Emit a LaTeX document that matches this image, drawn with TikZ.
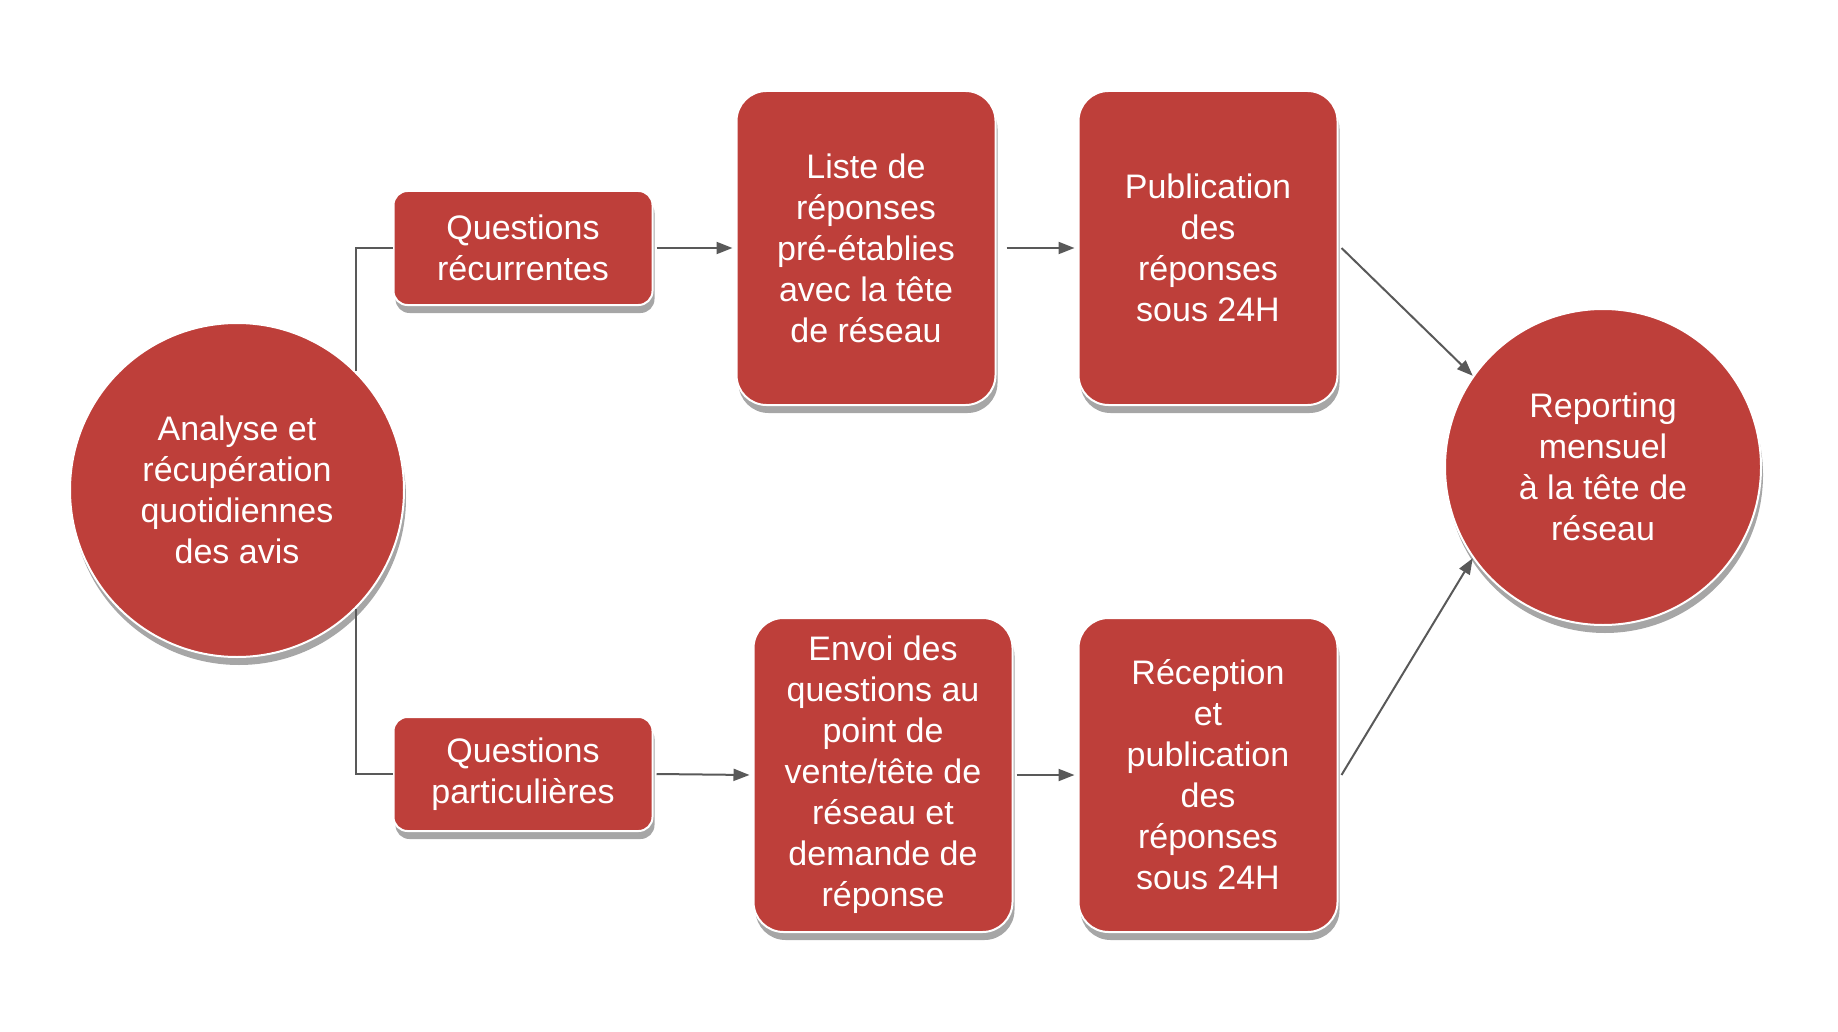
\documentclass[tikz,border=0pt]{standalone}
\usepackage{fontspec}
\setmainfont{Liberation Sans}
\usetikzlibrary{shadows,arrows.meta}
\definecolor{boxred}{HTML}{BE3F3A}
\definecolor{linegray}{HTML}{595959}
\tikzset{
  base/.style={fill=boxred,draw=white,line width=2pt,text=white,align=center,
    font=\fontsize{34}{41}\selectfont,
    drop shadow={shadow xshift=2pt,shadow yshift=-8pt,fill=black,opacity=0.35}},
  bigbox/.style={base,rectangle,rounded corners=30pt,minimum width=259pt,minimum height=314pt,inner sep=0pt},
  smallbox/.style={base,rectangle,rounded corners=14pt,minimum width=259pt,minimum height=114pt,inner sep=0pt},
  disc/.style={base,circle,inner sep=0pt},
  conn/.style={draw=linegray,line width=2pt,-{Triangle[length=16pt,width=12pt]}},
  plain/.style={draw=linegray,line width=2pt}
}
\begin{document}
\begin{tikzpicture}[x=1pt,y=-1pt]
\useasboundingbox (0,0) rectangle (1838,1032);
\node[disc,minimum size=334pt] (a) at (237,490) {Analyse et\\récupération\\quotidiennes\\des avis};
\node[smallbox] (q1) at (523,248) {Questions\\récurrentes};
\node[smallbox] (q2) at (523,774) {Questions\\particulières};
\node[bigbox] (l) at (866,248) {Liste de\\réponses\\pré-établies\\avec la tête\\de réseau};
\node[bigbox] (p) at (1208,248) {Publication\\des\\réponses\\sous 24H};
\node[bigbox] (e) at (883,775) {Envoi des\\questions au\\point de\\vente/tête de\\réseau et\\demande de\\réponse};
\node[bigbox] (r) at (1208,775) {Réception\\et\\publication\\des\\réponses\\sous 24H};
\node[disc,minimum size=316pt] (m) at (1603,467) {Reporting\\mensuel\\à la tête de\\réseau};
\draw[plain] (a.45) -- (a.45 |- q1.west) -- (q1.west);
\draw[plain] (a.-45) -- (a.-45 |- q2.west) -- (q2.west);
\draw[conn] ([xshift=3pt]q1.east) -- ([xshift=-3pt]l.west);
\draw[conn] ([xshift=10pt]l.east) -- ([xshift=-3pt]p.west);
\draw[conn] ([xshift=3pt]q2.east) -- ([xshift=-3pt]e.west);
\draw[conn] ([xshift=3pt]e.east) -- ([xshift=-3pt]r.west);
\draw[conn] ([xshift=3pt]p.east) -- (m.145);
\draw[conn] ([xshift=3pt]r.east) -- (m.215);
\end{tikzpicture}
\end{document}
